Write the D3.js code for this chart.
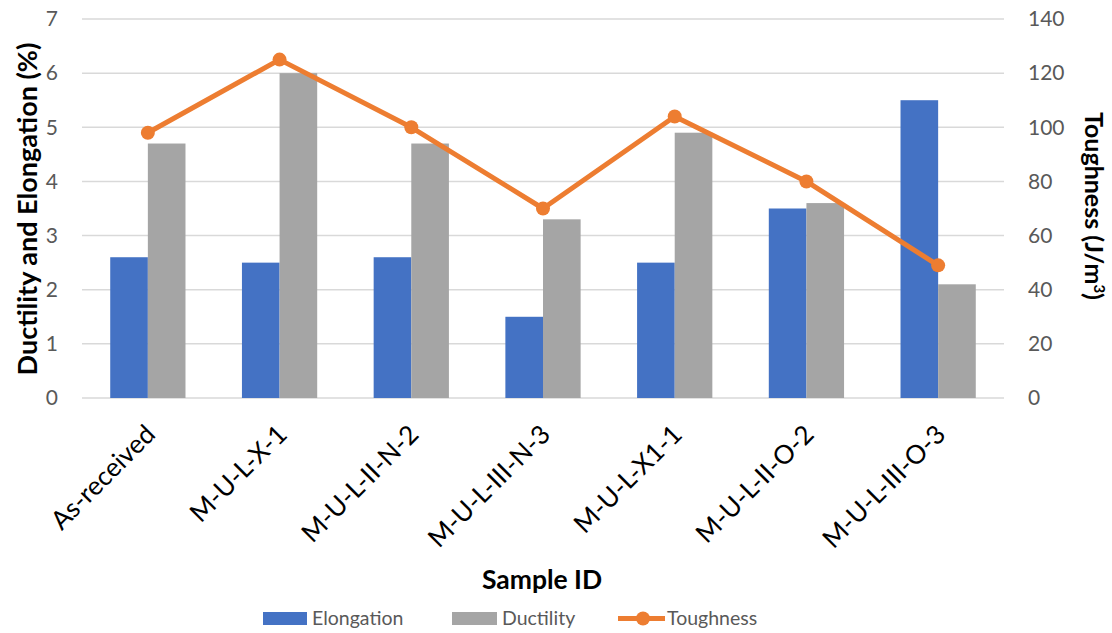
<!DOCTYPE html>
<html><head><meta charset="utf-8">
<script src="https://cdn.jsdelivr.net/npm/d3@7"></script>
<style>body{margin:0;background:#fff}svg{display:block}</style>
</head><body><svg id="c" width="1112" height="633"></svg>
<script>
const categories = ["As-received","M-U-L-X-1","M-U-L-II-N-2","M-U-L-III-N-3","M-U-L-X1-1","M-U-L-II-O-2","M-U-L-III-O-3"];
const elongation = [2.6,2.5,2.6,1.5,2.5,3.5,5.5];
const ductility = [4.7,6.0,4.7,3.3,4.9,3.6,2.1];
const toughness = [98,125,100,70,104,80,49];
const leftTicks = [0,1,2,3,4,5,6,7];
const rightTicks = [0,20,40,60,80,100,120,140];

const FONT = "Lato, 'Open Sans', sans-serif";
const svg = d3.select("#c");
const L = 82, R = 1004, T = 19, B = 398;
const x = d3.scaleBand().domain(categories).range([L,R]).paddingInner(0).paddingOuter(0);
const y = d3.scaleLinear().domain([0,7]).range([B,T]);
const y2 = d3.scaleLinear().domain([0,140]).range([B,T]);
const bw = x.bandwidth()*0.2857;

// gridlines
svg.append("g").selectAll("line").data(leftTicks).join("line")
  .attr("x1",L).attr("x2",R).attr("y1",d=>y(d)).attr("y2",d=>y(d))
  .attr("stroke","#d9d9d9").attr("stroke-width",1.5);

// axis labels
const ga = d3.axisLeft(y).tickValues(leftTicks).tickFormat(d3.format("d")).tickSize(0).tickPadding(0);
const gl = svg.append("g").attr("transform",`translate(${L-24},0)`).call(ga);
gl.select(".domain").remove();
gl.selectAll("text").attr("font-family",FONT).attr("font-size",21).attr("fill","#595959");

const gb = d3.axisRight(y2).tickValues(rightTicks).tickFormat(d3.format("d")).tickSize(0).tickPadding(0);
const gr = svg.append("g").attr("transform",`translate(${R+24},0)`).call(gb);
gr.select(".domain").remove();
gr.selectAll("text").attr("font-family",FONT).attr("font-size",21).attr("fill","#595959");

// bars
const cx = d => x(d)+x.bandwidth()/2;
svg.append("g").selectAll("rect").data(categories).join("rect")
  .attr("x",d=>cx(d)-bw).attr("width",bw)
  .attr("y",(d,i)=>y(elongation[i])).attr("height",(d,i)=>B-y(elongation[i]))
  .attr("fill","#4472c4");
svg.append("g").selectAll("rect").data(categories).join("rect")
  .attr("x",d=>cx(d)).attr("width",bw)
  .attr("y",(d,i)=>y(ductility[i])).attr("height",(d,i)=>B-y(ductility[i]))
  .attr("fill","#a5a5a5");

// line
const line = d3.line().x((d,i)=>cx(categories[i])).y(d=>y2(d));
svg.append("path").datum(toughness).attr("d",line).attr("fill","none")
  .attr("stroke","#ed7d31").attr("stroke-width",5).attr("stroke-linejoin","round");
svg.append("g").selectAll("circle").data(toughness).join("circle")
  .attr("cx",(d,i)=>cx(categories[i])).attr("cy",d=>y2(d)).attr("r",7).attr("fill","#ed7d31");

// category labels
svg.append("g").selectAll("text").data(categories).join("text")
  .attr("transform",d=>`translate(${cx(d)+9},${436}) rotate(-45)`)
  .attr("text-anchor","end").attr("font-family",FONT).attr("font-size",26).attr("fill","#000")
  .text(d=>d);

// axis titles
svg.append("text").attr("transform","translate(37,209) rotate(-90)").attr("text-anchor","middle")
  .attr("font-family",FONT).attr("font-size",27).attr("font-weight","bold").text("Ductility and Elongation (%)");
const rt = svg.append("text").attr("transform","translate(1085,206) rotate(90)").attr("text-anchor","middle")
  .attr("font-family",FONT).attr("font-size",25).attr("font-weight","bold");
rt.append("tspan").text("Toughness (J/m");
rt.append("tspan").attr("baseline-shift","super").attr("font-size",15).text("3");
rt.append("tspan").text(")");
svg.append("text").attr("x",542).attr("y",589).attr("text-anchor","middle")
  .attr("font-family",FONT).attr("font-size",26.5).attr("font-weight","bold").text("Sample ID");

// legend
const lg = svg.append("g").attr("font-family",FONT).attr("font-size",19.5).attr("fill","#595959");
lg.append("rect").attr("x",263).attr("y",612).attr("width",44).attr("height",13).attr("fill","#4472c4");
lg.append("text").attr("x",312).attr("y",625).text("Elongation");
lg.append("rect").attr("x",452).attr("y",612).attr("width",45).attr("height",13).attr("fill","#a5a5a5");
lg.append("text").attr("x",502).attr("y",625).text("Ductility");
lg.append("line").attr("x1",618).attr("x2",665).attr("y1",618.5).attr("y2",618.5).attr("stroke","#ed7d31").attr("stroke-width",5);
lg.append("circle").attr("cx",643).attr("cy",618.5).attr("r",7).attr("fill","#ed7d31");
lg.append("text").attr("x",667).attr("y",625).text("Toughness");
</script></body></html>
